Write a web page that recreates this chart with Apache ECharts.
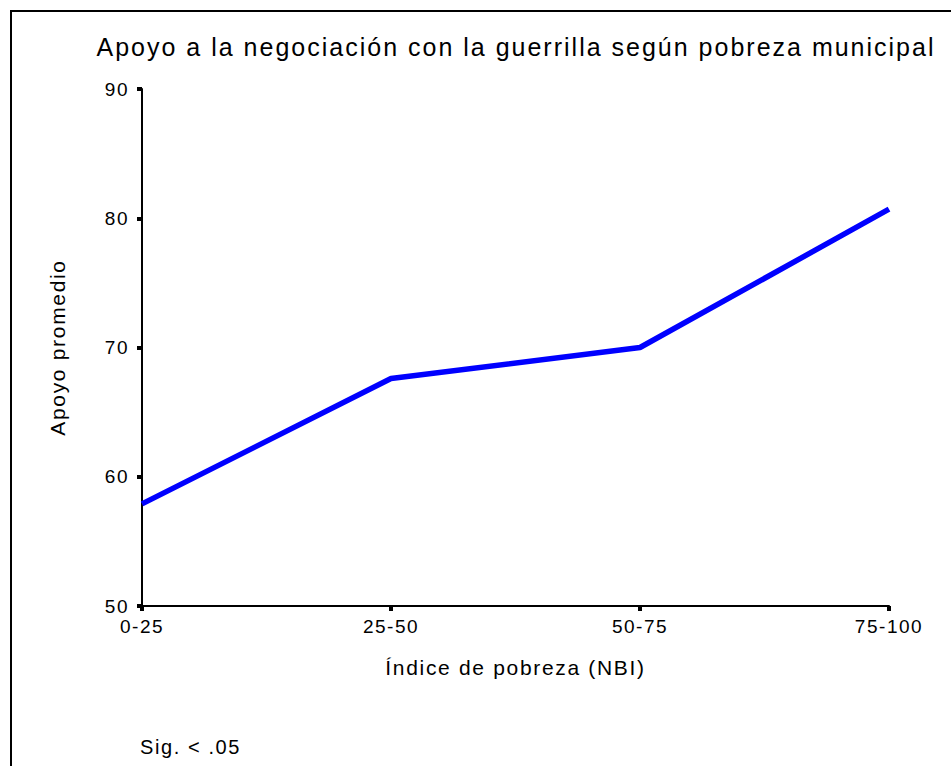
<!DOCTYPE html>
<html>
<head>
<meta charset="utf-8">
<script src="https://cdn.jsdelivr.net/npm/echarts@6/dist/echarts.min.js"></script>
<style>
html,body{margin:0;padding:0;background:#fff;}
#chart{width:951px;height:766px;}
#chart text{letter-spacing:0.08em;}
</style>
</head>
<body>
<div id="chart"></div>
<script>
const categories = ['0-25', '25-50', '50-75', '75-100'];
const apoyo = [57.9, 67.6, 70.0, 80.7];
const yTicks = [50, 60, 70, 80, 90];

const FONT = '"Liberation Sans", Arial, sans-serif';
const chart = echarts.init(document.getElementById('chart'), null, {renderer: 'svg'});
chart.setOption({
  backgroundColor: '#ffffff',
  animation: false,
  title: {
    text: 'Apoyo a la negociación con la guerrilla según pobreza municipal',
    left: 511, top: 29, textAlign: 'center',
    textStyle: {fontFamily: FONT, fontSize: 25, fontWeight: 'normal', color: '#000'}
  },
  graphic: [
    {type: 'polyline', shape: {points: [[11, 766], [11, 11], [951, 11]]},
     style: {stroke: '#000', lineWidth: 2, fill: null}},
    {type: 'text', left: 140, top: 737,
     style: {text: 'Sig. < .05', font: '20px ' + FONT, fill: '#000'}}
  ],
  grid: {left: 142, right: 62, top: 89, bottom: 160, containLabel: false},
  xAxis: {
    type: 'category', data: categories, boundaryGap: false,
    name: 'Índice de pobreza (NBI)', nameLocation: 'middle', nameGap: 51,
    nameTextStyle: {fontFamily: FONT, fontSize: 21, color: '#000'},
    axisLine: {lineStyle: {color: '#000', width: 2}},
    axisTick: {show: true, length: 5, lineStyle: {color: '#000', width: 4}},
    axisLabel: {fontFamily: FONT, fontSize: 19, color: '#000', margin: 11},
    splitLine: {show: false}
  },
  yAxis: {
    type: 'value', min: yTicks[0], max: yTicks[yTicks.length - 1], interval: 10,
    name: 'Apoyo promedio', nameLocation: 'middle', nameGap: 74,
    nameTextStyle: {fontFamily: FONT, fontSize: 21, color: '#000'},
    axisLine: {show: true, lineStyle: {color: '#000', width: 2}},
    axisTick: {show: true, length: 5, lineStyle: {color: '#000', width: 4}},
    axisLabel: {fontFamily: FONT, fontSize: 19, color: '#000', margin: 13},
    splitLine: {show: false}
  },
  series: [{
    type: 'line', data: apoyo, showSymbol: false, symbol: 'none',
    lineStyle: {color: '#0000ff', width: 5.5}
  }]
});
</script>
</body>
</html>
